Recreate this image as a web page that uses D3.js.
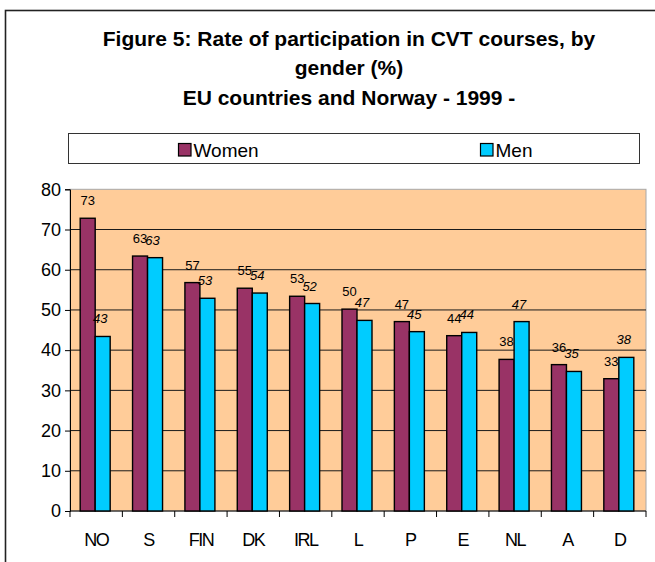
<!DOCTYPE html>
<html>
<head>
<meta charset="utf-8">
<script src="https://cdn.jsdelivr.net/npm/d3@7/dist/d3.min.js"></script>
<style>
  html, body { margin: 0; padding: 0; background: #fff; }
  svg { display: block; font-family: "Liberation Sans", Arial, sans-serif; }
</style>
</head>
<body>
<svg id="chart" width="655" height="562"></svg>
<script>
// ---- data ----
const categories = ["NO", "S", "FIN", "DK", "IRL", "L", "P", "E", "NL", "A", "D"];
const seriesNames = ["Women", "Men"];
const women = [72.8, 63.4, 56.8, 55.4, 53.4, 50.2, 47.1, 43.6, 37.7, 36.4, 32.9];
const men   = [43.4, 63.0, 52.9, 54.2, 51.6, 47.4, 44.6, 44.4, 47.1, 34.7, 38.2];
const yTicks = [0, 10, 20, 30, 40, 50, 60, 70, 80];
const titleLines = [
  "Figure 5: Rate of participation in CVT courses, by",
  "gender (%)",
  "EU countries and Norway - 1999 -"
];

const colors = { Women: "#993366", Men: "#00CCFF" };

const svg = d3.select("#chart");

// outer frame
svg.append("rect")
  .attr("x", 5.5).attr("y", 10.5)
  .attr("width", 700).attr("height", 600)
  .attr("fill", "none").attr("stroke", "#222").attr("stroke-width", 1.6);

// title
const titleY = [45.5, 75, 105];
svg.append("g").selectAll("text").data(titleLines).join("text")
  .attr("x", 349).attr("y", (d, i) => titleY[i])
  .attr("text-anchor", "middle")
  .attr("font-size", 21).attr("font-weight", "bold").attr("fill", "#000")
  .text(d => d);

// legend
svg.append("rect")
  .attr("x", 68.5).attr("y", 133.5).attr("width", 571).attr("height", 30)
  .attr("fill", "#fff").attr("stroke", "#333").attr("stroke-width", 1);
const legendX = { Women: 178.5, Men: 480.5 };
const lg = svg.append("g").selectAll("g").data(seriesNames).join("g")
  .attr("transform", d => `translate(${legendX[d]},143.5)`);
lg.append("rect").attr("width", 12.5).attr("height", 12.5)
  .attr("fill", d => colors[d]).attr("stroke", "#000").attr("stroke-width", 1.2);
lg.append("text").attr("x", 15).attr("y", 13)
  .attr("font-size", 19).attr("fill", "#000").text(d => d);

// scales
const plot = { left: 70, right: 646, top: 189.3, bottom: 511 };
const x0 = d3.scaleBand().domain(categories)
  .range([plot.left, plot.right]).paddingInner(0.4272).paddingOuter(0.2136);
const x1 = d3.scaleBand().domain(seriesNames).range([-1, x0.bandwidth() - 1]);
const y = d3.scaleLinear().domain([0, 80]).range([plot.bottom, plot.top]);

// plot background
svg.append("rect")
  .attr("x", plot.left).attr("y", plot.top)
  .attr("width", plot.right - plot.left).attr("height", plot.bottom - plot.top)
  .attr("fill", "#FFCC99").attr("stroke", "#A8A8A8").attr("stroke-width", 1);

// gridlines
svg.append("g").selectAll("line").data(yTicks.filter(t => t > 0 && t < 80)).join("line")
  .attr("x1", plot.left).attr("x2", plot.right)
  .attr("y1", d => y(d)).attr("y2", d => y(d))
  .attr("stroke", "#1a1a1a").attr("stroke-width", 1);

// y axis
const yAxis = svg.append("g").attr("transform", `translate(${plot.left},0)`)
  .call(d3.axisLeft(y).tickValues(yTicks).tickSize(5).tickPadding(4));
yAxis.selectAll("text").attr("font-size", 18).attr("fill", "#000")
  .attr("font-family", "Liberation Sans, Arial, sans-serif");
yAxis.selectAll("line").attr("stroke", "#000");
yAxis.select(".domain").attr("stroke", "#000");

// x axis (labels)
const xAxis = svg.append("g").attr("transform", `translate(0,${plot.bottom})`)
  .call(d3.axisBottom(x0).tickSize(0).tickPadding(22));
xAxis.select(".domain").remove();
xAxis.selectAll("text").attr("font-size", 18).attr("fill", "#000")
  .attr("letter-spacing", "-1.5px")
  .attr("font-family", "Liberation Sans, Arial, sans-serif");
// boundary tick marks
const bounds = categories.map(c => x0(c) - (x0.step() - x0.bandwidth()) / 2)
  .concat([plot.right]);
svg.append("g").selectAll("line").data(bounds).join("line")
  .attr("x1", d => d).attr("x2", d => d)
  .attr("y1", plot.bottom).attr("y2", plot.bottom + 6)
  .attr("stroke", "#000").attr("stroke-width", 1);
svg.append("line")
  .attr("x1", plot.left).attr("x2", plot.right)
  .attr("y1", plot.bottom).attr("y2", plot.bottom)
  .attr("stroke", "#000").attr("stroke-width", 1.2);

// bars
const rows = categories.map((c, i) => ({ cat: c, values: [
  { key: "Women", value: women[i] }, { key: "Men", value: men[i] }] }));
const groups = svg.append("g").selectAll("g").data(rows).join("g")
  .attr("transform", d => `translate(${x0(d.cat)},0)`);
groups.selectAll("rect").data(d => d.values).join("rect")
  .attr("x", d => x1(d.key)).attr("width", x1.bandwidth())
  .attr("y", d => y(d.value)).attr("height", d => y(0) - y(d.value))
  .attr("fill", d => colors[d.key]).attr("stroke", "#000").attr("stroke-width", 1.4);
groups.selectAll("text").data(d => d.values).join("text")
  .attr("x", d => x1(d.key) + x1.bandwidth() / 2 + (d.key === "Men" ? -2.5 : 0))
  .attr("y", d => y(d.value) - 13)
  .attr("text-anchor", "middle")
  .attr("font-size", 13).attr("fill", "#000")
  .attr("font-style", d => d.key === "Men" ? "italic" : "normal")
  .text(d => Math.round(d.value));
</script>
</body>
</html>
